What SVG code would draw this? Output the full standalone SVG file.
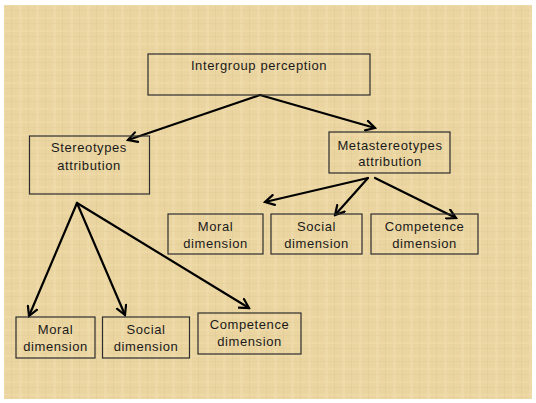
<svg xmlns="http://www.w3.org/2000/svg" width="536" height="403" viewBox="0 0 536 403">
<style>
.box{fill:none;stroke:#2e2e2e;stroke-width:1.2}
.t{font-family:"Liberation Sans",Arial,sans-serif;font-size:13px;fill:#1a1a1a;text-anchor:middle;letter-spacing:0.6px}
.c{fill:none;stroke:#000;stroke-width:2.2;stroke-linecap:round}
</style>
<defs>
<marker id="ah" viewBox="0 0 12 12" refX="10" refY="6" markerWidth="12" markerHeight="12" markerUnits="userSpaceOnUse" orient="auto">
<path d="M1,1 L10,6 L1,11" fill="none" stroke="#000" stroke-width="2.2" stroke-linecap="round" stroke-linejoin="miter"/>
</marker>
<pattern id="tex" width="17" height="13" patternUnits="userSpaceOnUse">
<rect width="17" height="13" fill="#EAD5A1"/>
<rect x="2" width="3" height="13" fill="#F0DDAD" opacity="0.6"/>
<rect x="11" width="1" height="13" fill="#E0C892" opacity="0.5"/>
<rect y="4" width="17" height="2" fill="#EFDCAB" opacity="0.5"/>
<rect y="10" width="17" height="1" fill="#E2CA95" opacity="0.4"/>
</pattern>
</defs>
<rect width="536" height="403" fill="#fff"/>
<rect x="4" y="5" width="528" height="394" fill="url(#tex)"/>
<g id="connectors">
<line class="c" x1="260" y1="95" x2="128" y2="140" marker-end="url(#ah)"/>
<line class="c" x1="260" y1="95" x2="375" y2="128" marker-end="url(#ah)"/>
<line class="c" x1="77" y1="203" x2="29" y2="316" marker-end="url(#ah)"/>
<line class="c" x1="77" y1="203" x2="125" y2="315" marker-end="url(#ah)"/>
<line class="c" x1="77" y1="203" x2="249" y2="308" marker-end="url(#ah)"/>
<line class="c" x1="368" y1="178" x2="265" y2="202" marker-end="url(#ah)"/>
<line class="c" x1="368" y1="178" x2="335" y2="215" marker-end="url(#ah)"/>
<line class="c" x1="375" y1="178" x2="456" y2="218" marker-end="url(#ah)"/>
</g>
<g id="intergroup">
<rect class="box" x="148" y="54" width="222" height="41"/>
<text class="t" x="259" y="70">Intergroup perception</text>
</g>
<g id="stereotypes">
<rect class="box" x="29.5" y="136" width="120" height="58"/>
<text class="t" x="89" y="152">Stereotypes</text>
<text class="t" x="89" y="170">attribution</text>
</g>
<g id="metastereotypes">
<rect class="box" x="329" y="132" width="121" height="41"/>
<text class="t" x="390" y="150">Metastereotypes</text>
<text class="t" x="390" y="166">attribution</text>
</g>
<g id="meta-moral">
<rect class="box" x="168" y="214" width="95" height="40"/>
<text class="t" x="215.5" y="231">Moral</text>
<text class="t" x="215.5" y="248">dimension</text>
</g>
<g id="meta-social">
<rect class="box" x="271" y="214" width="91" height="40"/>
<text class="t" x="316.5" y="231">Social</text>
<text class="t" x="316.5" y="248">dimension</text>
</g>
<g id="meta-competence">
<rect class="box" x="371" y="214" width="107" height="40"/>
<text class="t" x="424.5" y="231">Competence</text>
<text class="t" x="424.5" y="248">dimension</text>
</g>
<g id="st-moral">
<rect class="box" x="16" y="317" width="79" height="41"/>
<text class="t" x="55.5" y="334">Moral</text>
<text class="t" x="55.5" y="351">dimension</text>
</g>
<g id="st-social">
<rect class="box" x="102.5" y="317" width="87" height="41"/>
<text class="t" x="146" y="334">Social</text>
<text class="t" x="146" y="351">dimension</text>
</g>
<g id="st-competence">
<rect class="box" x="198" y="313" width="103" height="41"/>
<text class="t" x="249.5" y="329">Competence</text>
<text class="t" x="249.5" y="346">dimension</text>
</g>
</svg>
